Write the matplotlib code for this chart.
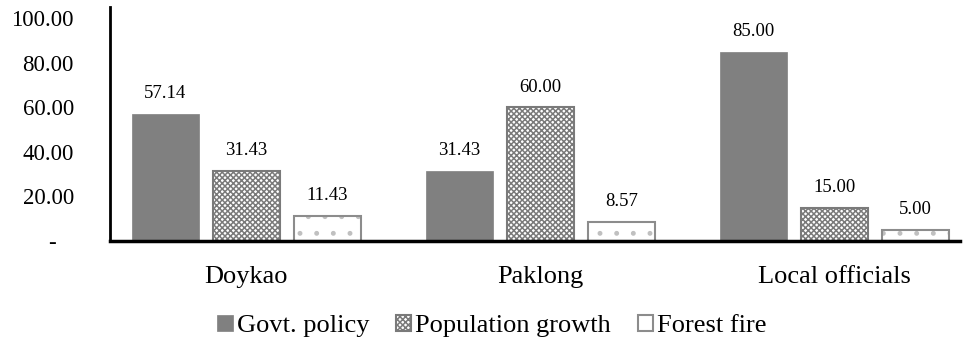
import numpy as np
import matplotlib.pyplot as plt

# Datos de la grafica
grupos = ['Doykao', 'Paklong', 'Local officials']
series = ['Govt. policy', 'Population growth', 'Forest fire']
govt = [57.14, 31.43, 85.00]
poblacion = [31.43, 60.00, 15.00]
incendio = [11.43, 8.57, 5.00]
yticks = [0, 20, 40, 60, 80, 100]
ytick_labels = ['-   ', '20.00', '40.00', '60.00', '80.00', '100.00']

plt.rcParams['font.family'] = ['Liberation Serif', 'DejaVu Serif']
plt.rcParams['hatch.linewidth'] = 1.1

fig = plt.figure(figsize=(9.76, 3.43), dpi=100)
ax = fig.add_axes([110/976, 102/343, 850/976, 234/343])

x = np.arange(len(grupos))
ancho = 0.228
paso = 0.276
borde = '#8c8c8c'

# Govt. policy: gris solido
b1 = ax.bar(x - paso, govt, ancho, color='#808080', edgecolor='#808080',
            linewidth=0.5, label=series[0])
# Population growth: trama cruzada
b2 = ax.bar(x, poblacion, ancho, color='white', edgecolor='#7a7a7a',
            hatch='xxxxxx', linewidth=1.5, label=series[1])
# Forest fire: puntos claros y contorno gris
ax.bar(x + paso, incendio, ancho, color='white', edgecolor='#c0c0c0',
       hatch='.', linewidth=0)
b3 = ax.bar(x + paso, incendio, ancho, color='none', edgecolor=borde,
            linewidth=1.5, label=series[2])

for barras, vals in zip([b1, b2, b3], [govt, poblacion, incendio]):
    for b, v in zip(barras, vals):
        ax.text(b.get_x() + b.get_width() / 2, v + 9, '%.2f' % v,
                ha='center', va='center', fontsize=13.5)

ax.set_xlim(-0.464, 2.427)
ax.set_ylim(0, 105)
ax.set_yticks(yticks)
ax.set_yticklabels(ytick_labels, fontsize=16.5)
ax.set_xticks(x)
ax.set_xticklabels(grupos, fontsize=19)
ax.tick_params(axis='y', length=0, pad=26)
ax.tick_params(axis='x', length=0, pad=18)

ax.spines['top'].set_visible(False)
ax.spines['right'].set_visible(False)
ax.spines['left'].set_linewidth(2)
ax.spines['bottom'].set_linewidth(2.5)

fig.legend(handles=[b1, b2, b3], loc='center', bbox_to_anchor=(0.504, 17/343),
           ncol=3, frameon=False, fontsize=19, handlelength=0.6,
           handleheight=0.6, handletextpad=0.15, columnspacing=1.0)

plt.savefig('out.png', dpi=100)
